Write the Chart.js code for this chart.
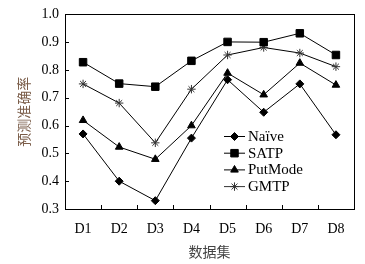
<!DOCTYPE html>
<html>
<head>
<meta charset="utf-8">
<script src="https://cdn.jsdelivr.net/npm/chart.js@4"></script>
<style>
html,body{margin:0;padding:0;background:#fff;}
#wrap{width:365px;height:264px;}
</style>
</head>
<body>
<div id="wrap"><canvas id="cc"></canvas></div>
<script>
const cats=['D1','D2','D3','D4','D5','D6','D7','D8'];
const naive=[0.57,0.40,0.33,0.555,0.765,0.648,0.75,0.567];
const satp=[0.828,0.751,0.74,0.833,0.901,0.90,0.932,0.854];
const putmode=[0.619,0.523,0.479,0.60,0.789,0.711,0.825,0.746];
const gmtp=[0.75,0.681,0.538,0.731,0.854,0.881,0.861,0.812];
const yTicks=[0.3,0.4,0.5,0.6,0.7,0.8,0.9,1.0];

const serif="'Liberation Serif','Times New Roman',serif";

// box, inward ticks and the legend inside the plot
const deco={
  id:'deco',
  afterDraw(ch){
    const c=ch.ctx, a=ch.chartArea, xs=ch.scales.x, ys=ch.scales.y;
    c.save();
    c.strokeStyle='#000';c.lineWidth=1;
    c.strokeRect(Math.round(a.left)+0.5,Math.round(a.top)+0.5,Math.round(a.right-a.left),Math.round(a.bottom-a.top));
    c.beginPath();
    yTicks.forEach(v=>{
      const y=Math.round(ys.getPixelForValue(v))+0.5;
      c.moveTo(a.left,y);c.lineTo(a.left+4,y);
    });
    for(let i=1;i<cats.length;i++){
      const x=Math.round((xs.getPixelForValue(i-1)+xs.getPixelForValue(i))/2)+0.5;
      c.moveTo(x,a.bottom);c.lineTo(x,a.bottom-4);
    }
    c.stroke();
    // legend
    const lx=224, tx=248;
    let ly=136;
    ch.data.datasets.forEach(ds=>{
      c.strokeStyle=ds.legendColor||'#000';
      c.lineWidth=1;
      c.beginPath();c.moveTo(lx,ly+0.5);c.lineTo(lx+21,ly+0.5);c.stroke();
      Chart.helpers.drawPoint(c,{pointStyle:ds.pointStyle,radius:ds.pointRadius,borderWidth:1,rotation:0},lx+10.5,ly+0.5);
      c.fillStyle='#000';
      c.font='15px '+serif;
      c.textBaseline='middle';c.textAlign='left';
      c.fillText(ds.label,tx,ly+1);
      ly+=16.7;
    });
    c.restore();
  }
};

function mk(label,data,ps,r,col){
  return {label:label,data:data,borderColor:'#000',backgroundColor:'#000',borderWidth:1,
    pointStyle:ps,pointRadius:r,pointHoverRadius:r,pointBorderColor:col||'#000',pointBackgroundColor:col||'#000',
    pointBorderWidth:1,tension:0,legendColor:col||'#000'};
}

new Chart(document.getElementById('cc'),{
  type:'line',
  data:{labels:cats,datasets:[
    mk('Naïve',naive,'rectRot',4),
    mk('SATP',satp,'rect',5.3),
    mk('PutMode',putmode,'triangle',4.4),
    mk('GMTP',gmtp,'star',4.2,'#333')
  ]},
  options:{
    responsive:true,maintainAspectRatio:false,animation:false,
    layout:{padding:{left:0,right:11,top:13,bottom:0}},
    plugins:{legend:{display:false},tooltip:{enabled:false}},
    scales:{
      x:{
        offset:true,
        grid:{display:false,drawTicks:false},
        border:{display:false},
        ticks:{font:{family:serif,size:14},color:'#000',padding:12,maxRotation:0},
        title:{display:true,text:'数据集',font:{family:"'Noto Sans CJK SC'",size:14},color:'#444',padding:{top:0,bottom:4}},
        afterFit(s){s.height=55;}
      },
      y:{
        min:0.3,max:1.0,
        afterBuildTicks(s){s.ticks=yTicks.map(v=>({value:v}));},
        grid:{display:false,drawTicks:false},
        border:{display:false},
        ticks:{font:{family:serif,size:14},color:'#000',padding:6,callback:v=>v.toFixed(1)},
        title:{display:true,text:'预测准确率',font:{family:"'Noto Sans CJK SC'",size:14},color:'#7a5c48',padding:{top:15.6,bottom:0}},
        afterFit(s){s.width=65;}
      }
    }
  },
  plugins:[deco]
});
</script>
</body>
</html>
